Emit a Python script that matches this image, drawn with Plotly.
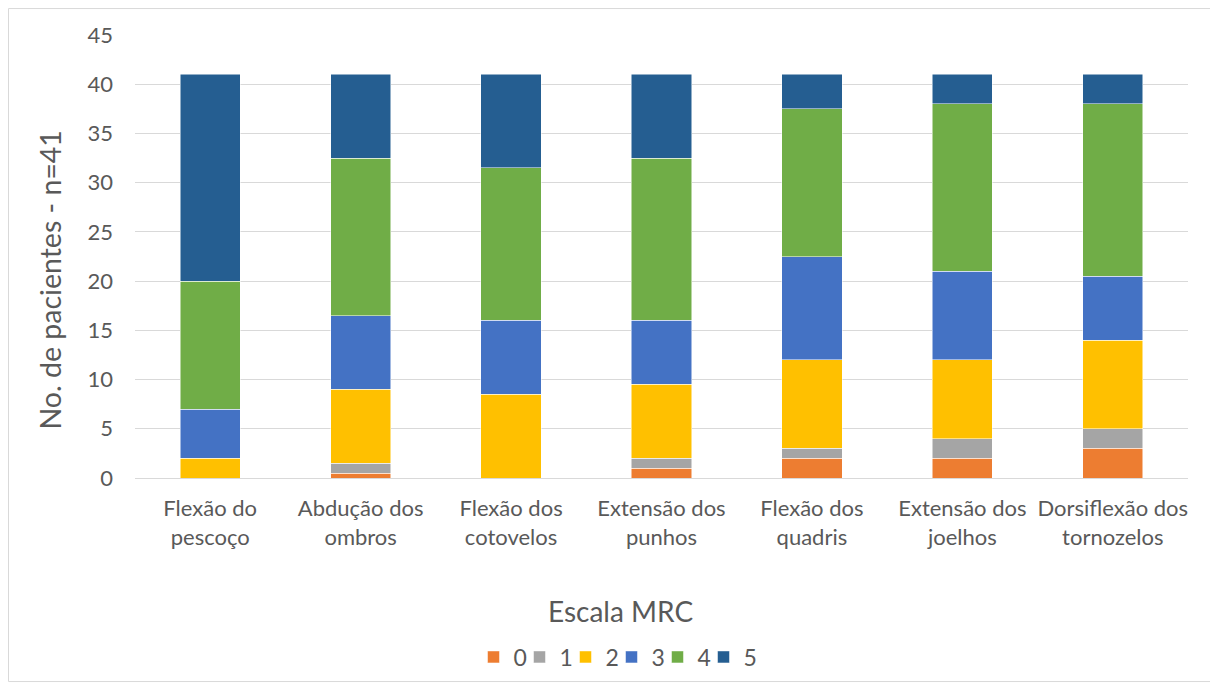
import plotly.graph_objects as go

categories = ["Flexão do<br>pescoço", "Abdução dos<br>ombros", "Flexão dos<br>cotovelos",
              "Extensão dos<br>punhos", "Flexão dos<br>quadris", "Extensão dos<br>joelhos",
              "Dorsiflexão dos<br>tornozelos"]
series_names = ["0", "1", "2", "3", "4", "5"]
s0 = [0, 0.5, 0, 1, 2, 2, 3]
s1 = [0, 1, 0, 1, 1, 2, 2]
s2 = [2, 7.5, 8.5, 7.5, 9, 8, 9]
s3 = [5, 7.5, 7.5, 6.5, 10.5, 9, 6.5]
s4 = [13, 16, 15.5, 16.5, 15, 17, 17.5]
s5 = [21, 8.5, 9.5, 8.5, 3.5, 3, 3]
colors = ["#ED7D31", "#A5A5A5", "#FFC000", "#4472C4", "#70AD47", "#255E91"]

font_family = "Lato, 'Open Sans', sans-serif"
text_color = "#595959"

# page body has an 8px margin: figure occupies window 8..1218 x 8..689
W, H = 1210, 681
L, R, T, B = 127, 30, 27, 210
PW, PH = W - L - R, H - T - B

def px(xw):  # window x -> paper x
    return (xw - 8 - L) / PW

def py(yw):  # window y -> paper y
    return (H - B - (yw - 8)) / PH

fig = go.Figure()
n = len(series_names)
for i, (name, vals, col) in enumerate(zip(series_names, [s0, s1, s2, s3, s4, s5], colors)):
    extra = dict(legendwidth=16) if i == n - 1 else {}
    fig.add_trace(go.Bar(x=categories, y=vals, name=name,
                         marker=dict(color=col, line=dict(color="white", width=0.5)),
                         **extra))

fig.update_layout(
    barmode="stack",
    bargap=0.6,
    width=W, height=H,
    margin=dict(l=L, r=R, t=T, b=B),
    paper_bgcolor="white", plot_bgcolor="white",
    font=dict(family=font_family, color=text_color, size=22),
    yaxis=dict(range=[0, 45], dtick=5, showgrid=True, gridcolor="#D9D9D9", gridwidth=1,
               zeroline=False, showline=False, ticks="", ticklabelstandoff=21,
               tickfont=dict(size=22, color=text_color)),
    xaxis=dict(showline=True, linecolor="#D9D9D9", linewidth=1, ticks="",
               ticklabelstandoff=11, tickfont=dict(size=22, color=text_color)),
    showlegend=True,
    legend=dict(orientation="h", x=px(619), xanchor="center", y=py(657), yanchor="middle",
                font=dict(size=23, color=text_color), traceorder="normal",
                itemwidth=30, tracegroupgap=0, entrywidth=1, entrywidthmode="pixels"),
    annotations=[
        dict(text="Escala MRC", x=px(620), y=py(612), xref="paper", yref="paper",
             xanchor="center", yanchor="middle", showarrow=False,
             font=dict(size=28, color=text_color)),
        dict(text="No. de pacientes - n=41", x=px(50), y=py(281), xref="paper", yref="paper",
             xanchor="center", yanchor="middle", textangle=-90, showarrow=False,
             font=dict(size=28.5, color=text_color)),
    ],
    shapes=[dict(type="rect", xref="paper", yref="paper",
                 x0=px(8.5), x1=px(1212), y0=py(683), y1=py(8.5),
                 line=dict(color="#D9D9D9", width=1), fillcolor="rgba(0,0,0,0)", layer="below")],
)

fig.write_html("out.html")
